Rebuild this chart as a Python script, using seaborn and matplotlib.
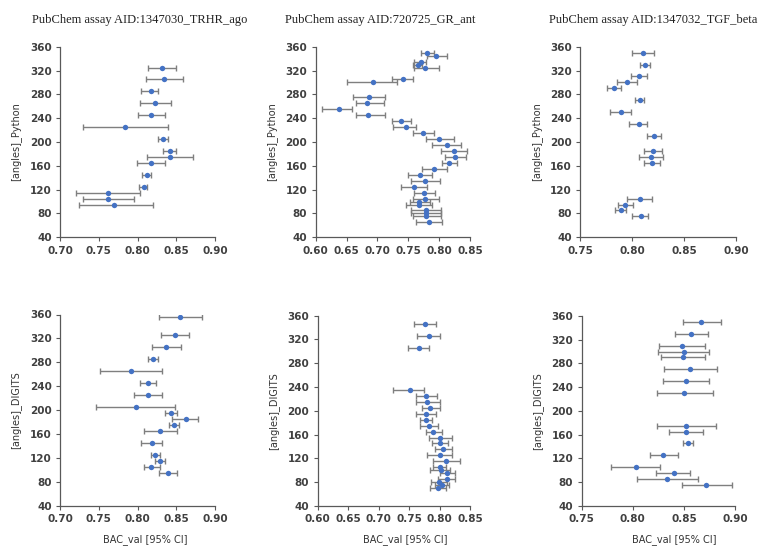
import numpy as np
import pandas as pd
import matplotlib
matplotlib.use("Agg")
import matplotlib.pyplot as plt
import seaborn as sns

# ---------------- data ----------------
titles = ["PubChem assay AID:1347030_TRHR_ago",
          "PubChem assay AID:720725_GR_ant",
          "PubChem assay AID:1347032_TGF_beta"]
ylabels = ["[angles]_Python", "[angles]_DIGITS"]
xlabel = "BAC_val [95% CI]"
y_ticks = [40, 80, 120, 160, 200, 240, 280, 320, 360]
x_ticks_trhr = [0.70, 0.75, 0.80, 0.85, 0.90]
x_ticks_gr = [0.60, 0.65, 0.70, 0.75, 0.80, 0.85]
x_ticks_tgf = [0.75, 0.80, 0.85, 0.90]

# TRHR_ago, Python
trhr_py_angle = [325, 305, 285, 265, 245, 225, 205, 185, 175, 165, 145, 125, 115, 105, 95]
trhr_py_bac = [0.832, 0.834, 0.817, 0.823, 0.818, 0.784, 0.833, 0.842, 0.842, 0.818, 0.812, 0.808, 0.762, 0.762, 0.770]
trhr_py_lo = [0.814, 0.811, 0.805, 0.803, 0.801, 0.730, 0.827, 0.833, 0.812, 0.799, 0.806, 0.802, 0.720, 0.730, 0.725]
trhr_py_hi = [0.850, 0.859, 0.827, 0.843, 0.836, 0.839, 0.839, 0.850, 0.872, 0.836, 0.818, 0.812, 0.803, 0.795, 0.820]

# GR_ant, Python
gr_py_angle = [350, 345, 335, 330, 325, 305, 300, 275, 265, 255, 245, 235, 225, 215, 205, 195,
               185, 175, 165, 155, 145, 135, 125, 115, 105, 100, 95, 85, 80, 75, 65]
gr_py_bac = [0.781, 0.795, 0.770, 0.765, 0.777, 0.741, 0.693, 0.686, 0.683, 0.638, 0.684, 0.738,
             0.746, 0.774, 0.800, 0.813, 0.824, 0.826, 0.816, 0.792, 0.769, 0.777, 0.759, 0.775,
             0.777, 0.768, 0.767, 0.778, 0.779, 0.779, 0.783]
gr_py_lo = [0.771, 0.780, 0.760, 0.758, 0.759, 0.723, 0.650, 0.661, 0.665, 0.611, 0.666, 0.723,
            0.726, 0.757, 0.778, 0.788, 0.803, 0.809, 0.805, 0.772, 0.750, 0.754, 0.738, 0.759,
            0.757, 0.753, 0.746, 0.754, 0.755, 0.757, 0.762]
gr_py_hi = [0.792, 0.812, 0.779, 0.773, 0.799, 0.758, 0.732, 0.712, 0.711, 0.659, 0.712, 0.754,
            0.762, 0.792, 0.824, 0.836, 0.845, 0.843, 0.829, 0.812, 0.788, 0.801, 0.781, 0.793,
            0.799, 0.785, 0.788, 0.803, 0.803, 0.803, 0.805]

# TGF_beta, Python
tgf_py_angle = [350, 330, 310, 300, 290, 270, 250, 230, 210, 185, 175, 165, 105, 95, 85, 75]
tgf_py_bac = [0.810, 0.812, 0.806, 0.795, 0.782, 0.807, 0.789, 0.806, 0.821, 0.820, 0.818, 0.819,
              0.807, 0.793, 0.789, 0.808]
tgf_py_lo = [0.800, 0.807, 0.799, 0.785, 0.776, 0.803, 0.779, 0.797, 0.814, 0.811, 0.806, 0.811,
             0.795, 0.786, 0.783, 0.800]
tgf_py_hi = [0.821, 0.817, 0.814, 0.805, 0.789, 0.811, 0.799, 0.814, 0.828, 0.829, 0.830, 0.827,
             0.819, 0.801, 0.794, 0.815]

# TRHR_ago, DIGITS
trhr_dg_angle = [355, 325, 305, 285, 265, 245, 225, 205, 195, 185, 175, 165, 145, 125, 115, 105, 95]
trhr_dg_bac = [0.855, 0.848, 0.837, 0.820, 0.791, 0.814, 0.814, 0.798, 0.843, 0.862, 0.847, 0.829,
               0.819, 0.823, 0.829, 0.818, 0.839]
trhr_dg_lo = [0.828, 0.830, 0.819, 0.814, 0.751, 0.803, 0.795, 0.747, 0.835, 0.845, 0.841, 0.808,
              0.805, 0.818, 0.823, 0.809, 0.828]
trhr_dg_hi = [0.883, 0.866, 0.856, 0.826, 0.832, 0.824, 0.832, 0.849, 0.851, 0.878, 0.854, 0.851,
              0.832, 0.829, 0.836, 0.829, 0.851]

# GR_ant, DIGITS
gr_dg_angle = [345, 325, 305, 235, 225, 215, 205, 195, 185, 175, 165, 155, 145, 135, 125, 115,
               105, 100, 95, 85, 80, 75, 70]
gr_dg_bac = [0.776, 0.782, 0.766, 0.751, 0.778, 0.780, 0.785, 0.778, 0.777, 0.783, 0.790, 0.801,
             0.801, 0.805, 0.800, 0.811, 0.800, 0.802, 0.813, 0.812, 0.799, 0.804, 0.798]
gr_dg_lo = [0.758, 0.763, 0.749, 0.724, 0.761, 0.761, 0.772, 0.761, 0.768, 0.768, 0.778, 0.783,
            0.788, 0.793, 0.779, 0.790, 0.790, 0.785, 0.801, 0.798, 0.786, 0.792, 0.785]
gr_dg_hi = [0.794, 0.801, 0.783, 0.774, 0.796, 0.800, 0.800, 0.795, 0.787, 0.798, 0.804, 0.821,
            0.814, 0.820, 0.820, 0.834, 0.811, 0.817, 0.826, 0.826, 0.812, 0.816, 0.811]

# TGF_beta, DIGITS
tgf_dg_angle = [350, 330, 310, 300, 290, 270, 250, 230, 175, 165, 145, 125, 105, 95, 85, 75]
tgf_dg_bac = [0.867, 0.857, 0.848, 0.850, 0.849, 0.856, 0.852, 0.850, 0.852, 0.852, 0.854, 0.830,
              0.803, 0.840, 0.833, 0.872]
tgf_dg_lo = [0.849, 0.841, 0.826, 0.825, 0.828, 0.831, 0.830, 0.824, 0.824, 0.835, 0.849, 0.817,
             0.779, 0.823, 0.804, 0.848]
tgf_dg_hi = [0.886, 0.874, 0.871, 0.875, 0.871, 0.882, 0.875, 0.878, 0.881, 0.869, 0.859, 0.844,
             0.827, 0.856, 0.864, 0.897]

panels = [
    (trhr_py_angle, trhr_py_bac, trhr_py_lo, trhr_py_hi, x_ticks_trhr),
    (gr_py_angle, gr_py_bac, gr_py_lo, gr_py_hi, x_ticks_gr),
    (tgf_py_angle, tgf_py_bac, tgf_py_lo, tgf_py_hi, x_ticks_tgf),
    (trhr_dg_angle, trhr_dg_bac, trhr_dg_lo, trhr_dg_hi, x_ticks_trhr),
    (gr_dg_angle, gr_dg_bac, gr_dg_lo, gr_dg_hi, x_ticks_gr),
    (tgf_dg_angle, tgf_dg_bac, tgf_dg_lo, tgf_dg_hi, x_ticks_tgf),
]

# ---------------- style / layout ----------------
sns.set_style("ticks")
plt.rcParams["font.family"] = ["DejaVu Sans"]

W, H = 760, 554
fig = plt.figure(figsize=(W / 100, H / 100), dpi=100)

# axes boxes in pixels: (left, right, top, bottom)
boxes = [
    (60, 215, 46.7, 237.3),
    (315.7, 470, 46.7, 237.3),
    (580.3, 736.3, 46.7, 237.3),
    (60, 215, 314.5, 505.5),
    (317.7, 470, 315.5, 506),
    (581.7, 735, 316, 505.7),
]
title_x = [140, 380, 653]
xlabel_fx = [0.548, 0.573, 0.602]

point_color = "#4472C4"
err_color = "#7f7f7f"
spine_color = "#595959"
tick_color = "#404040"

for i, ((ang, bac, lo, hi, xt), (l, r, t, b)) in enumerate(zip(panels, boxes)):
    ax = fig.add_axes([l / W, 1 - b / H, (r - l) / W, (b - t) / H])
    df = pd.DataFrame({"angle": ang, "bac": bac, "lo": lo, "hi": hi})
    xerr = np.vstack([df["bac"] - df["lo"], df["hi"] - df["bac"]])
    ax.errorbar(df["bac"], df["angle"], xerr=xerr, fmt="none", ecolor=err_color,
                elinewidth=1.0, capsize=2.2, capthick=1.0, zorder=2)
    sns.scatterplot(data=df, x="bac", y="angle", ax=ax, color=point_color, s=15,
                    edgecolor=point_color, linewidth=0, zorder=3, legend=False)
    ax.set_xlim(xt[0], xt[-1])
    ax.set_ylim(y_ticks[0], y_ticks[-1])
    ax.set_xticks(xt)
    ax.set_xticklabels([f"{v:.2f}" for v in xt])
    ax.set_yticks(y_ticks)
    ax.set_yticklabels([str(v) for v in y_ticks])
    for lab in ax.get_xticklabels() + ax.get_yticklabels():
        lab.set_fontweight("bold")
        lab.set_fontsize(7.5)
        lab.set_color(tick_color)
    ax.tick_params(axis="both", length=3, width=0.8, color=spine_color, pad=3)
    for s in ["left", "bottom"]:
        ax.spines[s].set_color(spine_color)
        ax.spines[s].set_linewidth(0.9)
    for s in ["top", "right"]:
        ax.spines[s].set_visible(False)
    ax.set_ylabel(ylabels[i // 3], fontsize=7, color="#333333", labelpad=6)
    if i >= 3:
        ax.set_xlabel(xlabel, fontsize=7, color="#333333")
        ax.xaxis.set_label_coords(xlabel_fx[i - 3], -0.15)
    else:
        ax.set_xlabel("")
        fig.text(title_x[i] / W, 1 - 20 / H, titles[i], ha="center", va="center",
                 fontsize=9, family=["Liberation Serif", "DejaVu Serif"], color="#222222")

fig.savefig("out.png", dpi=100)
